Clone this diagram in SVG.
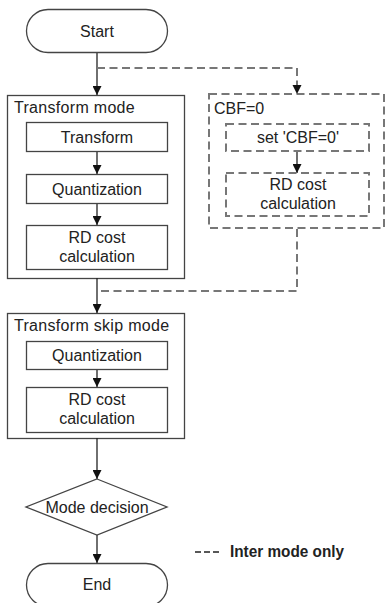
<svg xmlns="http://www.w3.org/2000/svg" width="385" height="603" viewBox="0 0 385 603">
  <style>
    text { font-family: "Liberation Sans", Arial, sans-serif; font-size: 16px; fill: #222; }
    .c { text-anchor: middle; }
    .box { fill: #fff; stroke: #444; stroke-width: 1.3; }
    .dbox { fill: none; stroke: #777; stroke-width: 2; stroke-dasharray: 8 4.5; }
    .line { fill: none; stroke: #222; stroke-width: 1.3; }
    .dline { fill: none; stroke: #777; stroke-width: 2; stroke-dasharray: 8 4.5; }
  </style>
  <defs>
    <marker id="arrow" viewBox="0 0 10 10" refX="10" refY="5" markerWidth="9" markerHeight="9" markerUnits="userSpaceOnUse" orient="auto">
      <path d="M0,0 L10,5 L0,10 Z" fill="#111"/>
    </marker>
  </defs>

  <rect width="385" height="603" fill="#fff"/>

  <!-- containers -->
  <g id="transform-mode">
    <rect class="box" x="7.5" y="95.5" width="177" height="183"/>
    <text x="14" y="113" letter-spacing="0.3">Transform mode</text>
  </g>
  <g id="cbf-zero">
    <rect class="dbox" x="209" y="94" width="175" height="134"/>
    <text x="214" y="114">CBF=0</text>
  </g>
  <g id="transform-skip-mode">
    <rect class="box" x="7.5" y="313.5" width="177" height="125"/>
    <text x="14" y="331" letter-spacing="0.3">Transform skip mode</text>
  </g>

  <!-- connectors -->
  <g id="connectors">
    <path class="line" d="M97,52 V95" marker-end="url(#arrow)"/>
    <path class="dline" d="M97,68 H297 V93"/>
    <path d="M292.5,85 L301.5,85 L297,94 Z" fill="#111"/>
    <path class="line" d="M97,151 V174" marker-end="url(#arrow)"/>
    <path class="line" d="M97,203 V225" marker-end="url(#arrow)"/>
    <path class="line" d="M297,151 V173" stroke="#666" marker-end="url(#arrow)"/>
    <path class="dline" d="M297,229 V291 H97"/>
    <path class="line" d="M97,278 V313" marker-end="url(#arrow)"/>
    <path class="line" d="M97,369 V387" marker-end="url(#arrow)"/>
    <path class="line" d="M97,438 V479" marker-end="url(#arrow)"/>
    <path class="line" d="M97,535 V563" marker-end="url(#arrow)"/>
  </g>

  <!-- nodes -->
  <g id="start">
    <rect class="box" x="26.5" y="9.5" width="141" height="43" rx="21.5"/>
    <text class="c" x="97" y="37">Start</text>
  </g>
  <g id="transform">
    <rect class="box" x="26.5" y="122.5" width="141" height="29"/>
    <text class="c" x="97" y="143">Transform</text>
  </g>
  <g id="quantization-1">
    <rect class="box" x="26.5" y="174.5" width="141" height="29"/>
    <text class="c" x="97" y="195">Quantization</text>
  </g>
  <g id="rd-cost-1">
    <rect class="box" x="26.5" y="225.5" width="141" height="44"/>
    <text class="c" x="97" y="243">RD cost</text>
    <text class="c" x="97" y="262">calculation</text>
  </g>
  <g id="set-cbf">
    <rect class="dbox" x="226" y="124" width="143" height="27"/>
    <text class="c" x="298" y="143">set 'CBF=0'</text>
  </g>
  <g id="rd-cost-cbf">
    <rect class="dbox" x="226" y="173" width="143" height="43"/>
    <text class="c" x="298" y="190">RD cost</text>
    <text class="c" x="298" y="209">calculation</text>
  </g>
  <g id="quantization-2">
    <rect class="box" x="26.5" y="341.5" width="141" height="28"/>
    <text class="c" x="97" y="361">Quantization</text>
  </g>
  <g id="rd-cost-2">
    <rect class="box" x="26.5" y="387.5" width="141" height="45"/>
    <text class="c" x="97" y="405">RD cost</text>
    <text class="c" x="97" y="424">calculation</text>
  </g>
  <g id="mode-decision">
    <polygon class="box" points="97,479 167,507 97,535 26,507"/>
    <text class="c" x="97" y="513">Mode decision</text>
  </g>
  <g id="end">
    <rect class="box" x="26.5" y="563.5" width="141" height="43" rx="21.5"/>
    <text class="c" x="97" y="590">End</text>
  </g>

  <!-- legend -->
  <g id="legend">
    <path d="M195,552 H221" stroke="#222" stroke-width="1.3" stroke-dasharray="6 3"/>
    <text x="230" y="557" font-weight="bold" font-size="14" textLength="114" lengthAdjust="spacingAndGlyphs">Inter mode only</text>
  </g>
</svg>
